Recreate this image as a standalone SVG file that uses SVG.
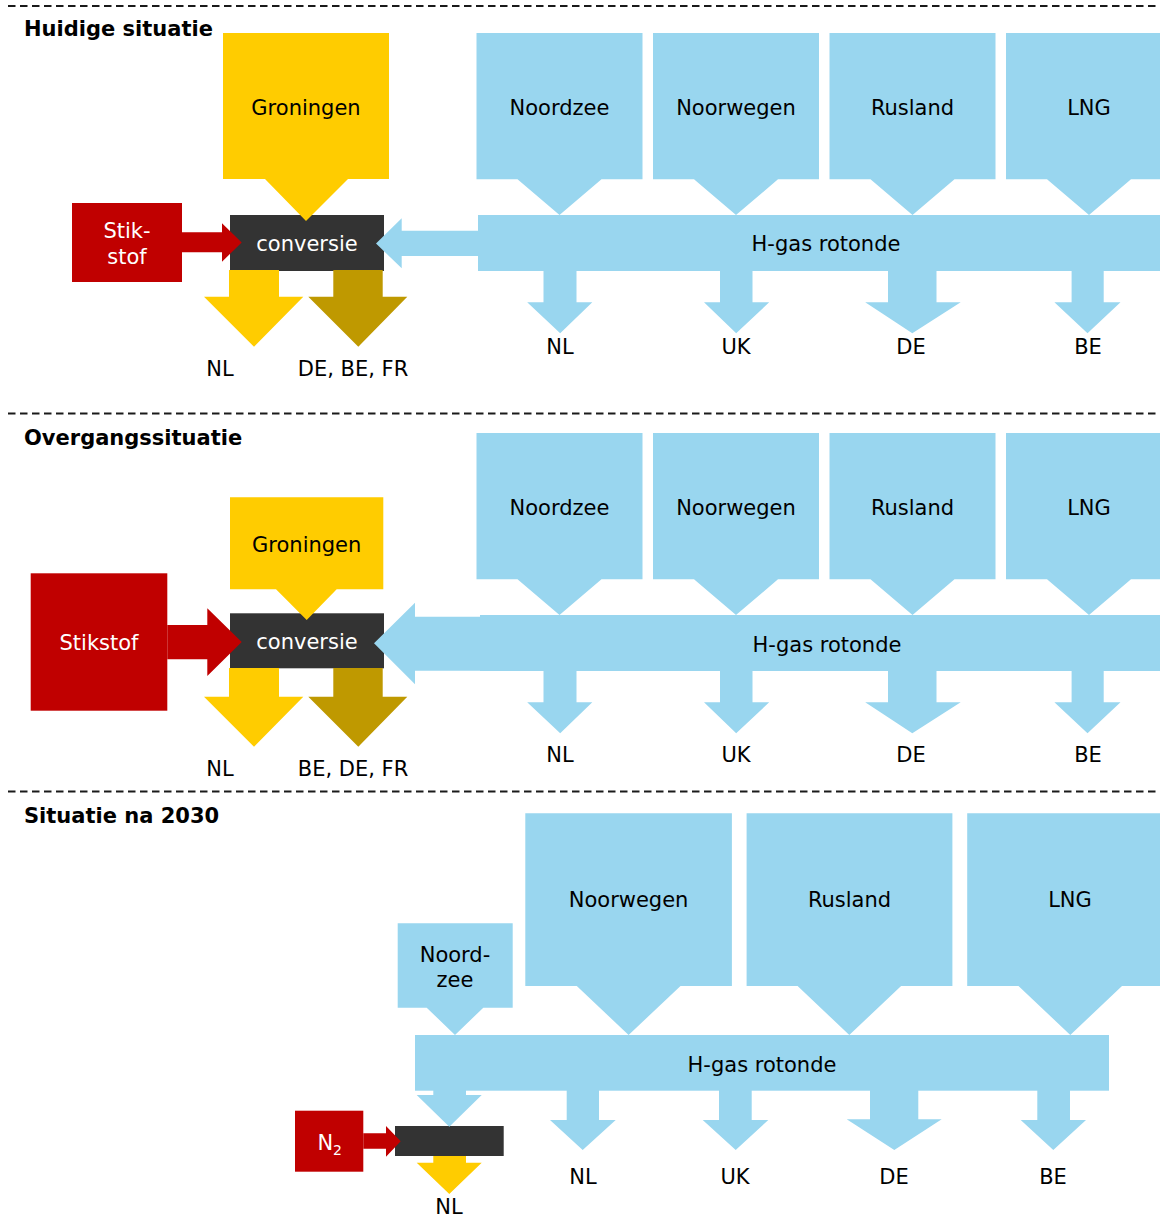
<svg xmlns="http://www.w3.org/2000/svg" width="1160" height="1216" viewBox="0 0 1160 1216">
<style>
text{font-family:"DejaVu Sans","Verdana",sans-serif;font-size:21px;fill:#000;text-anchor:middle}
.t{font-weight:bold;text-anchor:start}
.w{fill:#fff}
.blue{fill:#99D6EF}
.yel{fill:#FFCC00}
.dyel{fill:#BF9900}
.red{fill:#C00000}
.dark{fill:#333333}
.dash{stroke:#1a1a1a;stroke-width:2;stroke-dasharray:7.5 4.5;fill:none}
</style>
<rect width="1160" height="1216" fill="#fff"/>
<g id="separators">
<line class="dash" x1="8" y1="6" x2="1160" y2="6"/>
<line class="dash" x1="8" y1="413.5" x2="1160" y2="413.5"/>
<line class="dash" x1="8" y1="791.5" x2="1160" y2="791.5"/>
</g>
<g id="titles">
<text class="t" x="24" y="36">Huidige situatie</text>
<text class="t" x="24" y="445">Overgangssituatie</text>
<text class="t" x="24" y="823">Situatie na 2030</text>
</g>

<!-- Section 1 -->
<g id="conversie1"><rect class="dark" x="230" y="215" width="154" height="56"/><text class="w" x="307" y="251">conversie</text></g>
<g id="groningen1"><path class="yel" d="M223,33H389V179H348L306,221L265,179H223Z"/><text x="306" y="115">Groningen</text></g>
<g id="stikstof1"><rect class="red" x="72" y="203" width="110" height="79"/><text class="w" x="127" y="238">Stik-</text><text class="w" x="127" y="264">stof</text></g>
<g id="noordzee1"><path class="blue" d="M476.5,33H642.5V179.3H601.5L559.5,215L517.5,179.3H476.5Z"/><text x="559.5" y="115">Noordzee</text></g>
<g id="noorwegen1"><path class="blue" d="M653,33H819V179.3H778L736,215L694,179.3H653Z"/><text x="736" y="115">Noorwegen</text></g>
<g id="rusland1"><path class="blue" d="M829.5,33H995.5V179.3H954.5L912.5,215L870.5,179.3H829.5Z"/><text x="912.5" y="115">Rusland</text></g>
<g id="lng1"><path class="blue" d="M1006,33H1172V179.3H1131L1089,215L1047,179.3H1006Z"/><text x="1089" y="115">LNG</text></g>
<g id="rotonde1"><rect class="blue" x="478" y="215" width="692" height="56"/><text x="826" y="251">H-gas rotonde</text></g>
<g id="labels1">
<text x="220" y="376">NL</text><text x="353" y="376">DE, BE, FR</text>
<text x="560" y="354">NL</text><text x="736" y="354">UK</text><text x="911" y="354">DE</text><text x="1088" y="354">BE</text>
</g>

<!-- Section 2 -->
<g id="conversie2"><rect class="dark" x="230" y="613.3" width="154" height="55"/><text class="w" x="307" y="649.3">conversie</text></g>
<g id="groningen2"><path class="yel" d="M230,497.3H383.3V589.3H336.7L306.7,620L276,589.3H230Z"/><text x="306.7" y="551.7">Groningen</text></g>
<g id="stikstof2"><rect class="red" x="30.7" y="573.3" width="136.6" height="137.4"/><text class="w" x="99" y="650">Stikstof</text></g>
<g id="noordzee2"><path class="blue" d="M476.5,433H642.5V579.3H601.5L559.5,615L517.5,579.3H476.5Z"/><text x="559.5" y="515">Noordzee</text></g>
<g id="noorwegen2"><path class="blue" d="M653,433H819V579.3H778L736,615L694,579.3H653Z"/><text x="736" y="515">Noorwegen</text></g>
<g id="rusland2"><path class="blue" d="M829.5,433H995.5V579.3H954.5L912.5,615L870.5,579.3H829.5Z"/><text x="912.5" y="515">Rusland</text></g>
<g id="lng2"><path class="blue" d="M1006,433H1172V579.3H1131L1089,615L1047,579.3H1006Z"/><text x="1089" y="515">LNG</text></g>
<g id="rotonde2"><rect class="blue" x="480" y="615" width="690" height="56"/><text x="827" y="651.7">H-gas rotonde</text></g>
<g id="labels2">
<text x="220" y="776">NL</text><text x="353" y="776">BE, DE, FR</text>
<text x="560" y="762">NL</text><text x="736" y="762">UK</text><text x="911" y="762">DE</text><text x="1088" y="762">BE</text>
</g>

<!-- Section 3 -->
<g id="conversie3"><rect class="dark" x="395" y="1126" width="108.7" height="30"/></g>
<g id="noordzee3"><path class="blue" d="M397.7,923.3H512.7V1007.7H483.3L455,1035L426.7,1007.7H397.7Z"/><text x="455" y="961.7">Noord-</text><text x="455" y="986.7">zee</text></g>
<g id="noorwegen3"><path class="blue" d="M525.3,813.3H731.9V986H680.5L628.6,1035L576.8,986H525.3Z"/><text x="628.6" y="907.3">Noorwegen</text></g>
<g id="rusland3"><path class="blue" d="M746.6,813.3H952.4V986H901.1L849.3,1035L797.6,986H746.6Z"/><text x="849.5" y="907.3">Rusland</text></g>
<g id="lng3"><path class="blue" d="M967.2,813.3H1173V986H1122L1070.3,1035L1018.5,986H967.2Z"/><text x="1070" y="907.3">LNG</text></g>
<g id="rotonde3"><rect class="blue" x="415" y="1035" width="694" height="55.7"/><text x="762" y="1071.7">H-gas rotonde</text></g>
<g id="n2"><rect class="red" x="295" y="1110.7" width="68.3" height="61"/><text class="w" x="329.7" y="1150">N<tspan font-size="14" dy="5">2</tspan></text></g>
<g id="labels3">
<text x="583" y="1184">NL</text><text x="735" y="1184">UK</text><text x="894" y="1184">DE</text><text x="1053" y="1184">BE</text>
<text x="449" y="1214">NL</text>
</g>

<g id="connectors">
<!-- section 1 -->
<path class="red" d="M182,232.3H222V223.3L241.7,242.5L222,261.7V252.3H182Z"/>
<path class="blue" d="M480,230.7H401.7V218.3L376,243.5L401.7,268.3V256H480Z"/>
<path class="yel" d="M229,270H279V296.7H303.3L254,346.7L204,296.7H229Z"/>
<path class="dyel" d="M333.3,270H382.7V296.7H407.3L358.3,346.7L308.3,296.7H333.3Z"/>
<path class="blue" d="M543.5,270H576.5V302.3H592.3L560.2,333.3L527.2,302.3H543.5Z"/>
<path class="blue" d="M720,270H752.5V302.3H769.2L736.2,333.3L704,302.3H720Z"/>
<path class="blue" d="M888,270H936.5V302.3H960.7L912.3,333.3L865.2,302.3H888Z"/>
<path class="blue" d="M1071.6,270H1103.7V302.3H1120.5L1087.5,333.3L1054.4,302.3H1071.6Z"/>
<!-- section 2 -->
<path class="red" d="M167.3,625H207.3V608.3L241.7,642L207.3,676V659.3H167.3Z"/>
<path class="blue" d="M482,616.7H415V602.7L374,643.3L415,684.3V670.7H482Z"/>
<path class="yel" d="M229,668H279V696.7H303.3L254,746.7L204,696.7H229Z"/>
<path class="dyel" d="M333.3,668H382.7V696.7H407.3L358.3,746.7L308.3,696.7H333.3Z"/>
<path class="blue" d="M543.5,670H576.5V702.3H592.3L560.2,733.3L527.2,702.3H543.5Z"/>
<path class="blue" d="M720,670H752.5V702.3H769.2L736.2,733.3L704,702.3H720Z"/>
<path class="blue" d="M888,670H936.5V702.3H960.7L912.3,733.3L865.2,702.3H888Z"/>
<path class="blue" d="M1071.6,670H1103.7V702.3H1120.5L1087.5,733.3L1054.4,702.3H1071.6Z"/>
<!-- section 3 -->
<path class="blue" d="M433.3,1090H466V1095H481.7L449.3,1126.7L416.7,1095H433.3Z"/>
<path class="red" d="M363.3,1133.3H386V1126L400.7,1141.3L386,1156.7V1148.7H363.3Z"/>
<path class="yel" d="M433.3,1156H466V1162.7H481.7L449.3,1194L416.7,1162.7H433.3Z"/>
<path class="blue" d="M566.7,1090H599V1120H615.7L582.7,1150L550,1120H566.7Z"/>
<path class="blue" d="M719,1090H751.7V1120H768.3L735.7,1150L702.7,1120H719Z"/>
<path class="blue" d="M870,1090H918.3V1119.3H941.7L894.3,1150L846.7,1119.3H870Z"/>
<path class="blue" d="M1037.3,1090H1070V1120H1086L1053.3,1150L1020.7,1120H1037.3Z"/>
</g>
</svg>
